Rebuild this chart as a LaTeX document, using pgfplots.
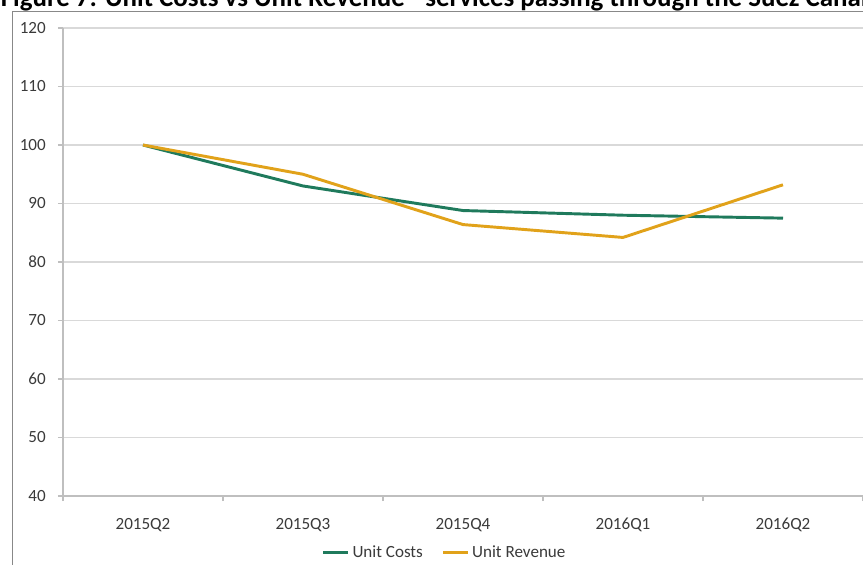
\documentclass[border=0pt]{standalone}
\usepackage{pgfplots}
\pgfplotsset{compat=1.18}
\usepackage{fontspec}
\setmainfont{Carlito}
\definecolor{costs}{HTML}{1F7A5C}
\definecolor{revenue}{HTML}{E1A21A}
\definecolor{gridc}{HTML}{D9D9D9}
\definecolor{axisc}{HTML}{BFBFBF}
\definecolor{framec}{HTML}{888888}
\definecolor{txt}{HTML}{3A3A3A}
\begin{document}
\begin{tikzpicture}
\useasboundingbox (0,0) rectangle (647.25pt,-423pt);
\clip (0,0) rectangle (647.25pt,-423pt);
\draw[draw=framec, line width=0.9pt] (9.4pt,-8.8pt) rectangle (700pt,-460pt);
\node[anchor=base west, inner sep=0pt, font=\bfseries\fontsize{20.2}{24}\selectfont] at (0.4pt,-5.25pt)
  {Figure 7: Unit Costs vs Unit Revenue - services passing through the Suez Canal};
\begin{axis}[
  at={(47.25pt,-372pt)}, anchor=south west,
  scale only axis, width=600pt, height=351pt,
  xmin=-0.5, xmax=4.5, ymin=40, ymax=120,
  ytick={40,50,...,120},
  xtick={-0.5,0.5,...,4.5},
  xticklabels={},
  extra x ticks={0,1,2,3,4},
  extra x tick labels={2015Q2,2015Q3,2015Q4,2016Q1,2016Q2},
  extra x tick style={grid=none, tick style={draw=none}},
  axis x line*=bottom, axis y line*=left,
  axis line style={draw=axisc, line width=0.9pt},
  ymajorgrids, grid style={draw=gridc, line width=0.9pt},
  tick align=outside, major tick length=3.75pt,
  tick style={draw=axisc, line width=0.9pt},
  /pgf/number format/assume math mode=true,
  tick label style={font=\fontsize{12.8}{15}\selectfont, text=txt},
  yticklabel style={anchor=base east, inner sep=0pt, xshift=-9pt, yshift=-3.75pt},
  xticklabel style={anchor=base, inner sep=0pt, yshift=-21.5pt},
  legend style={at={(0.4775,-0.12)}, anchor=center, draw=none, fill=none,
    legend columns=2, font=\fontsize{12.8}{15}\selectfont, text=txt,
    /tikz/every even column/.append style={column sep=12pt},
    inner sep=0pt},
  legend image code/.code={\draw[#1] (0pt,0pt) -- (18.75pt,0pt);},
  legend cell align=left,
]
\addplot[costs, line width=2.2pt] coordinates {(0,100) (1,93.0) (2,88.8) (3,88.0) (4,87.5)};
\addlegendentry{Unit Costs}
\addplot[revenue, line width=2.2pt] coordinates {(0,100) (1,95.0) (2,86.4) (3,84.2) (4,93.2)};
\addlegendentry{Unit Revenue}
\end{axis}
\end{tikzpicture}
\end{document}
